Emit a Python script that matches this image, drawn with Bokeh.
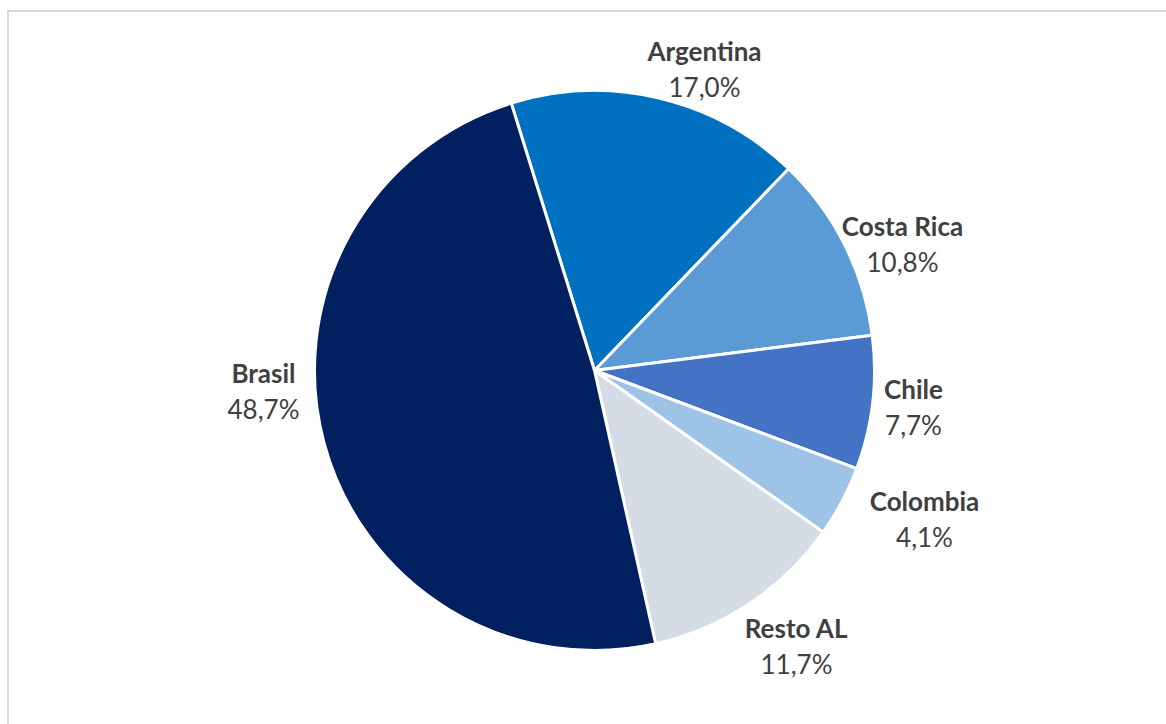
import math
from bokeh.plotting import figure
from bokeh.models import Range1d, ColumnDataSource
from bokeh.core.properties import value
from bokeh.embed import file_html
from bokeh.resources import INLINE

# ---- data ----
countries = ["Argentina", "Costa Rica", "Chile", "Colombia", "Resto AL", "Brasil"]
shares = [17.0, 10.8, 7.7, 4.1, 11.7, 48.7]
colors = ["#0070C0", "#5B9BD5", "#4472C4", "#9DC3E6", "#D6DCE5", "#002060"]

# ---- layout (screen pixels of the page) ----
W, H = 1166, 724
CX, CY, R = 594, 370, 280
START_CW_FROM_TOP = -17.3  # degrees, clockwise from 12 o'clock
# label centres (screen coords, between the two lines)
label_pos = {
    "Argentina": (704, 68),
    "Costa Rica": (902, 243),
    "Chile": (913, 406),
    "Colombia": (924, 518),
    "Resto AL": (796, 645),
    "Brasil": (263, 390),
}

def sy(y):
    return H - y

total = sum(shares)
starts, ends = [], []
cum = 0.0
for s in shares:
    a0 = START_CW_FROM_TOP + cum / total * 360.0
    a1 = a0 + s / total * 360.0
    starts.append(math.radians(90 - a0))
    ends.append(math.radians(90 - a1))
    cum += s

src = ColumnDataSource(dict(
    start=starts, end=ends, color=colors,
    x=[CX] * len(shares), y=[sy(CY)] * len(shares),
))

p = figure(width=W, height=H, x_range=Range1d(0, W), y_range=Range1d(0, H),
           output_backend="svg", toolbar_location=None, min_border=0)
p.axis.visible = False
p.grid.visible = False
p.outline_line_color = None
p.background_fill_color = "white"
p.border_fill_color = "white"

# chart frame
p.quad(left=[7.5], right=[1190], top=[sy(10.5)], bottom=[-10],
       fill_color=None, line_color="#D9D9D9", line_width=2)

p.wedge(x="x", y="y", radius=R, start_angle="start", end_angle="end",
        direction="clock", fill_color="color", line_color="white",
        line_width=3, source=src)

fmt = [f"{v:.1f}".replace(".", ",") + "%" for v in shares]
lx = [label_pos[c][0] for c in countries]
ly = [label_pos[c][1] for c in countries]
p.text(x=lx, y=[sy(y - 18) for y in ly], text=countries,
       text_font=value("Lato"), text_font_style="bold", text_font_size="26px",
       text_color="#404040", text_align="center", text_baseline="middle")
p.text(x=lx, y=[sy(y + 18) for y in ly], text=fmt,
       text_font=value("Lato"), text_font_size="26px",
       text_color="#404040", text_align="center", text_baseline="middle")

open("out.html", "w").write(file_html(p, INLINE))
